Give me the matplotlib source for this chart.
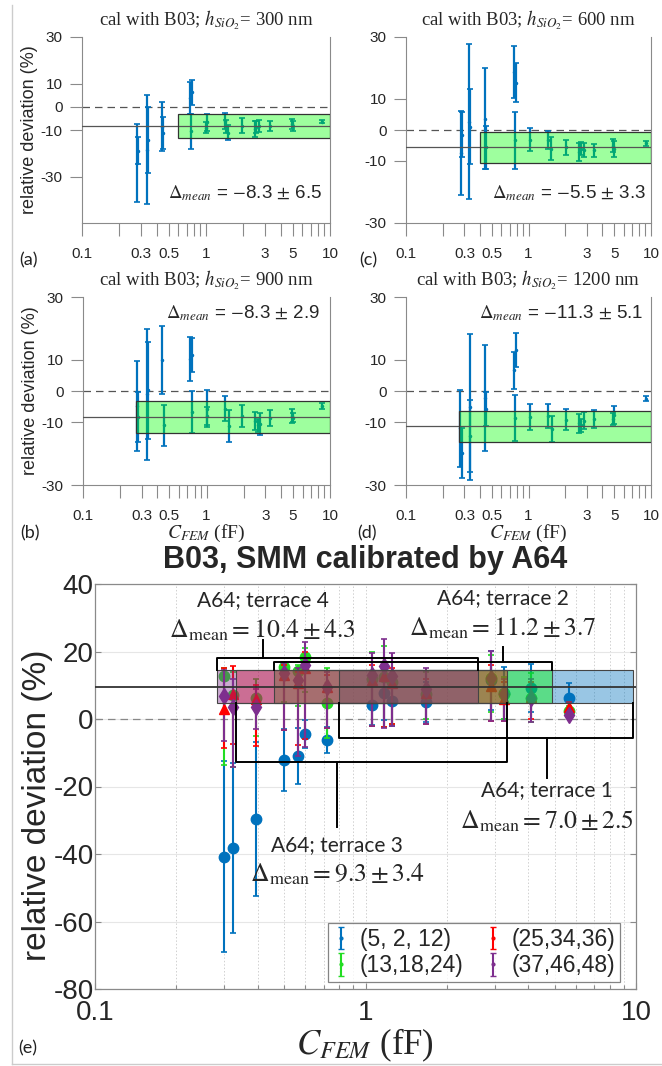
import matplotlib
matplotlib.use('Agg')
import matplotlib.pyplot as plt
import numpy as np
from matplotlib.patches import Rectangle
from matplotlib.ticker import LogLocator, NullFormatter, FixedLocator
from matplotlib.lines import Line2D

plt.rcParams['font.family'] = ['Liberation Sans', 'DejaVu Sans']
plt.rcParams['mathtext.fontset'] = 'stix'
plt.rcParams['axes.unicode_minus'] = False

W, H = 662, 1066

# ---------------- top panels (a)-(d): cal with B03 ----------------
xa = [0.276, 0.285, 0.333, 0.338, 0.44, 0.45, 0.743, 0.77, 0.76, 1.01, 1.0, 1.42, 1.45, 1.5,
      1.94, 2.48, 2.55, 2.7, 3.28, 4.9, 5.0, 8.57]
ya = [-24.2, -18.9, -18.4, -14.4, -8.6, -11.4, 3.8, 6.2, -10.6, -6.7, -9.0, -6.2, -8.5, -11.1,
      -8.2, -9.4, -8.7, -8.4, -8.3, -7.4, -8.3, -6.4]
ea = [16.8, 5.7, 23.4, 14.1, 10.5, 6.8, 6.9, 5.4, 7.5, 3.6, 2.5, 3.4, 3.0, 3.4,
      3.3, 3.4, 2.4, 2.6, 2.0, 2.1, 2.0, 0.8]

xc = [0.281, 0.288, 0.329, 0.334, 0.44, 0.45, 0.757, 0.785, 0.78, 1.02, 1.44, 1.53, 2.02,
      2.6, 2.7, 2.85, 3.44, 5.0, 4.9, 9.1]
yc = [-7.4, -1.5, 2.7, 1.1, 3.7, -5.6, 18.7, 15.3, -3.3, -3.1, -3.2, -6.0, -5.6,
      -7.0, -6.0, -6.5, -6.6, -6.1, -5.0, -4.2]
ec = [13.6, 7.2, 25.0, 12.1, 16.3, 7.0, 8.5, 6.3, 9.2, 3.7, 3.0, 3.6, 2.4,
      2.9, 2.0, 2.2, 2.0, 2.7, 2.0, 0.8]

xb = [0.274, 0.28, 0.33, 0.335, 0.436, 0.45, 0.74, 0.77, 0.76, 1.01, 1.0, 1.42, 1.52,
      1.94, 2.48, 2.7, 2.6, 3.29, 4.92, 5.0, 8.6]
yb = [-4.8, -8.3, -1.1, 0.2, 9.9, -11.0, 10.3, 11.5, -6.6, -5.6, -8.0, -5.6, -11.1,
      -8.0, -9.7, -10.4, -11.0, -8.7, -7.9, -8.5, -4.7]
eb = [14.3, 7.9, 20.9, 15.5, 10.7, 6.6, 7.0, 5.3, 6.7, 5.9, 3.0, 3.9, 5.1,
      3.5, 2.9, 3.5, 2.0, 2.5, 2.3, 1.5, 1.0]

xd = [0.278, 0.285, 0.335, 0.33, 0.44, 0.45, 0.757, 0.785, 0.78, 1.02, 1.45, 1.55,
      2.02, 2.6, 2.7, 2.85, 3.44, 5.0, 4.9, 9.1]
yd = [-11.9, -19.8, -5.1, -14.3, -2.3, -5.7, 6.6, 13.2, -8.5, -8.3, -8.0, -12.1,
      -9.1, -10.3, -11.0, -9.5, -8.9, -7.6, -9.0, -2.4]
ed = [12.2, 8.0, 23.3, 11.4, 16.9, 5.5, 6.0, 5.4, 7.3, 4.3, 3.7, 4.1,
      3.5, 3.1, 2.0, 2.7, 2.8, 2.9, 2.0, 0.9]

top_means = [-8.3, -5.5, -8.3, -11.3]
top_stds = [6.5, 3.3, 2.9, 5.1]
top_heights = [300, 600, 900, 1200]
top_box_x0 = [0.594, 0.40, 0.27, 0.27]
top_tick_vals = [0.1, 0.3, 0.5, 1, 3, 5, 10]
top_tick_labels = ['0.1', '0.3', '0.5', '1', '3', '5', '10']
top_yticks = [30, 10, 0, -10, -30]

# ---------------- panel (e): B03, SMM calibrated by A64 ----------------
x_e = [0.30, 0.324, 0.394, 0.50, 0.563, 0.597, 0.72, 1.057, 1.17, 1.25, 1.67, 2.91, 3.25, 4.09, 5.65]
series_labels = ['(5, 2, 12)', '(13,18,24)', '(25,34,36)', '(37,46,48)']
blue_y = [-40.8, -38.3, -29.7, -12.2, -11.0, -4.5, -6.2, 4.1, 7.7, 5.3, 5.0, 11.5, 7.7, 9.2, 6.2]
blue_lo = [-69.1, -63.5, -52.5, -21.4, -19.3, -8.6, -10.0, -1.9, -0.3, -2.2, -1.0, 2.8, 0.0, 2.1, 1.7]
blue_hi = [-12.5, -13.1, -6.9, -3.0, -2.7, -0.4, -2.4, 10.1, 15.7, 12.8, 11.0, 20.2, 15.4, 16.3, 10.7]
green_y = [12.7, 7.1, 6.2, 15.4, 14.3, 18.4, 4.7, 12.0, 12.5, 11.0, 7.4, 12.2, 7.4, 6.2, 2.5]
green_lo = [-13.7, -14.3, -5.0, 5.0, 4.0, 8.0, -5.6, -2.0, -2.5, -1.5, 0.0, 2.0, 0.0, -0.9, 1.0]
green_hi = [15.0, 14.0, 12.0, 17.0, 16.0, 21.0, 15.0, 20.0, 21.5, 17.0, 14.0, 19.0, 12.5, 13.6, 4.0]
red_y = [3.0, 7.4, 6.0, 13.0, 10.7, 15.0, 9.5, 11.6, 12.7, 10.6, 7.6, 9.8, 6.0, 6.5, 3.6]
red_lo = [-8.6, -7.4, -8.0, -3.4, -7.7, -6.0, -2.6, -2.0, -2.5, -1.5, -1.5, -0.7, -0.6, 0.0, 2.5]
red_hi = [15.0, 15.7, 10.0, 16.0, 14.0, 20.0, 13.0, 16.0, 18.0, 15.0, 12.0, 16.0, 11.0, 11.0, 5.0]
purple_y = [6.8, 3.6, 3.5, 13.6, 11.6, 16.0, 9.6, 13.0, 15.8, 12.7, 8.8, 12.2, 7.4, 6.2, 1.2]
purple_lo = [-6.5, -14.2, -3.0, -3.4, -11.0, -8.2, -2.6, -2.1, -2.7, -2.0, -1.5, -0.7, -0.6, -0.9, 0.3]
purple_hi = [14.5, 12.0, 9.0, 16.6, 15.0, 22.9, 14.0, 19.5, 23.7, 19.7, 15.0, 20.2, 12.0, 12.0, 2.5]

overall_mean = 9.5
band_lo, band_hi = 4.6, 14.5
terrace_names = ['A64; terrace 1', 'A64; terrace 2', 'A64; terrace 3', 'A64; terrace 4']
terrace_means = [7.0, 11.2, 9.3, 10.4]
terrace_stds = [2.5, 3.7, 3.4, 4.3]
terrace_x0 = [0.80, 0.459, 0.332, 0.283]
terrace_x1 = [9.75, 4.89, 3.33, 2.60]
brace_y = [-5.6, 17.0, -12.8, 18.2]
tip_x = [4.70, 3.22, 0.785, 0.417]
tip_y = [-17.5, 21.4, -32.0, 23.4]
label_y = [-21.1, 35.9, -37.4, 35.3]
delta_y = [-30.3, 27.0, -46.0, 26.2]

BLUE = '#0072BD'
GREEN = '#22DD22'
RED = '#FF0000'
PURPLE = '#7E2F8E'
series_colors = [BLUE, GREEN, RED, PURPLE]
box_colors = [BLUE, '#00FF00', RED, PURPLE]
markers = ['o', 'o', '^', 'd']
SPINE = '#8a8a8a'
TXT = '#262626'


def px_axes(fig, left, top, right, bottom):
    return fig.add_axes([left / W, 1 - bottom / H, (right - left) / W, (bottom - top) / H])


def draw_top(ax, x, y, e, mean, box_x0, ylim, title, dtext, dpos):
    ax.errorbar(x, y, yerr=e, fmt='.', ms=3, color=BLUE, ecolor=BLUE,
                elinewidth=1.6, capsize=2.2, capthick=1.2, zorder=2)
    ax.axhline(0, color='#555555', ls=(0, (6, 4)), lw=0.9, zorder=1)
    ax.axhline(mean, color='#555555', lw=0.9, zorder=4)
    ax.add_patch(Rectangle((box_x0, mean - 5), 10 - box_x0, 10, facecolor=(0, 1, 0),
                           alpha=0.38, edgecolor='none', zorder=3))
    ax.add_patch(Rectangle((box_x0, mean - 5), 10 - box_x0, 10, facecolor='none',
                           edgecolor='#333333', lw=0.9, zorder=4))
    ax.set_xscale('log')
    ax.set_xlim(0.1, 10)
    ax.set_ylim(*ylim)
    ax.set_yticks(top_yticks)
    ax.set_yticklabels([str(v) for v in top_yticks])
    ax.xaxis.set_major_locator(FixedLocator(top_tick_vals))
    ax.set_xticklabels(top_tick_labels)
    ax.xaxis.set_minor_locator(LogLocator(base=10, subs=np.arange(2, 10)))
    ax.xaxis.set_minor_formatter(NullFormatter())
    ax.tick_params(axis='both', which='both', direction='out', length=9, width=0.8,
                   color=SPINE, labelcolor=TXT, labelsize=11)
    ax.tick_params(axis='x', which='both', pad=8)
    ax.tick_params(axis='y', pad=5)
    for s in ['left', 'bottom', 'right']:
        ax.spines[s].set_color(SPINE)
        ax.spines[s].set_linewidth(0.8)
    ax.spines['top'].set_visible(False)
    ax.text(0.5, 1 + 17 / 186, title, transform=ax.transAxes, ha='center', va='center',
            fontsize=13.5, family='Liberation Serif', color=TXT)
    ax.text(dpos[0], dpos[1], dtext, transform=ax.transAxes, ha='right', va='center',
            fontsize=13.5, color=TXT)


fig = plt.figure(figsize=(W / 100, H / 100), dpi=100)

# figure frame (left and bottom light border)
fig.add_artist(Line2D([12 / W, 12 / W], [1 - 1064 / H, 1 - 5 / H], color='#cccccc', lw=1,
                      transform=fig.transFigure))
fig.add_artist(Line2D([12 / W, 1], [1 - 1064 / H, 1 - 1064 / H], color='#cccccc', lw=1,
                      transform=fig.transFigure))

ax_a = px_axes(fig, 82, 37, 330, 223)
ax_c = px_axes(fig, 406, 37, 651, 223)
ax_b = px_axes(fig, 83, 297, 330, 485)
ax_d = px_axes(fig, 406, 297, 651, 485)

top_data = [(ax_a, xa, ya, ea, (-50, 30), (0.97, 0.16)),
            (ax_c, xc, yc, ec, (-30, 30), (0.98, 0.16)),
            (ax_b, xb, yb, eb, (-30, 30), (0.96, 0.915)),
            (ax_d, xd, yd, ed, (-30, 30), (0.97, 0.915))]
for i, (ax, x, y, e, yl, dpos) in enumerate(top_data):
    title = 'cal with B03; $h_{SiO_2}$= %d nm' % top_heights[i]
    dtext = r'$\Delta_{mean}$ = $-$%.1f $\pm$ %.1f' % (abs(top_means[i]), top_stds[i])
    draw_top(ax, x, y, e, top_means[i], top_box_x0[i], yl, title, dtext, dpos)

for ax in (ax_a, ax_b):
    ax.set_ylabel('relative deviation (%)', fontsize=13, color=TXT, labelpad=2)

for cx in ((83 + 330) / 2, (406 + 651) / 2):
    fig.text(cx / W, 1 - 533 / H, '$C_{FEM}$ (fF)', ha='center', va='center',
             fontsize=14, family='Liberation Serif', color=TXT)

panel_labels = [('(a)', 28, 260), ('(c)', 368, 260), ('(b)', 30, 533), ('(d)', 367, 533),
                ('(e)', 28, 1048)]
for txt, px, py in panel_labels:
    fig.text(px / W, 1 - py / H, txt, ha='center', va='center', fontsize=13,
             family='Lato', color='#222222')

# ---------------- panel (e) ----------------
ax = px_axes(fig, 95, 584, 636, 989)
ax.set_xscale('log')
ax.set_xlim(0.1, 10)
ax.set_ylim(-80, 40)
ax.set_yticks(np.arange(-80, 41, 20))
ax.xaxis.set_minor_locator(LogLocator(base=10, subs=np.arange(2, 10)))
ax.xaxis.set_minor_formatter(NullFormatter())
ax.set_xticks([0.1, 1, 10])
ax.set_xticklabels(['0.1', '1', '10'])
ax.grid(True, which='major', axis='y', color='#e6e6e6', lw=0.8)
ax.grid(True, which='both', axis='x', color='#d0d0d0', lw=0.7, ls=(0, (1.5, 2)))
ax.set_axisbelow(True)
ax.tick_params(axis='both', which='both', direction='in', length=4, width=0.8,
               color=SPINE, labelcolor=TXT, labelsize=20, top=False, right=True)
ax.tick_params(axis='x', which='major', pad=8)
ax.tick_params(axis='x', which='minor', length=3)
ax.tick_params(axis='y', pad=1)
for s in ax.spines.values():
    s.set_color(SPINE)
    s.set_linewidth(0.9)

ax.axhline(0, color='#888888', ls=(0, (6, 4)), lw=0.9, zorder=1)

series = [(blue_y, blue_lo, blue_hi), (green_y, green_lo, green_hi),
          (red_y, red_lo, red_hi), (purple_y, purple_lo, purple_hi)]
for k, (yv, lo, hi) in enumerate(series):
    yv = np.array(yv)
    yerr = [yv - np.array(lo), np.array(hi) - yv]
    ax.errorbar(x_e, yv, yerr=yerr, fmt=markers[k], ms=7.5 if k != 3 else 8.5,
                color=series_colors[k], ecolor=series_colors[k], elinewidth=1.5,
                capsize=2.2, capthick=1.2, zorder=2 + 0.1 * k)

for k in range(4):
    ax.add_patch(Rectangle((terrace_x0[k], band_lo), terrace_x1[k] - terrace_x0[k],
                           band_hi - band_lo, facecolor=box_colors[k], alpha=0.4,
                           edgecolor='none', zorder=3))
    ax.add_patch(Rectangle((terrace_x0[k], band_lo), terrace_x1[k] - terrace_x0[k],
                           band_hi - band_lo, facecolor='none', edgecolor='#444444',
                           lw=0.8, zorder=3.5))

ax.axhline(overall_mean, color='#333333', lw=1.3, zorder=4)

for k in range(4):
    x0, x1, yb_, tx, ty = terrace_x0[k], terrace_x1[k], brace_y[k], tip_x[k], tip_y[k]
    yedge = band_hi if yb_ > band_hi else band_lo
    ax.plot([x0, x0, x1, x1], [yedge, yb_, yb_, yedge], color='k', lw=1.4, zorder=5)
    ax.plot([tx, tx], [yb_, ty], color='k', lw=1.4, zorder=5)
    ax.text(tx, label_y[k], terrace_names[k], ha='center', va='center', fontsize=15,
            family='Lato', color=TXT, zorder=6)
    ax.text(tx, delta_y[k], r'$\Delta_{\mathrm{mean}} = %.1f \pm %.1f$'
            % (terrace_means[k], terrace_stds[k]), ha='center', va='center',
            fontsize=18.5, color=TXT, zorder=6)

# legend proxies (small dot errorbar symbols)
handles = []
for k in range(4):
    h = ax.errorbar([1e-3], [0], yerr=[1], fmt='.', ms=4, color=series_colors[k],
                    elinewidth=1.5, capsize=2.5)
    handles.append(h)
leg = ax.legend(handles, series_labels, ncol=2, loc='lower right',
                bbox_to_anchor=(620 / W, 1 - 982 / H), bbox_transform=fig.transFigure,
                fontsize=16.5, frameon=True, fancybox=False, edgecolor='#666666',
                borderaxespad=0, handlelength=0.8, handletextpad=0.4, columnspacing=0.9,
                borderpad=0.2, labelspacing=0.15)
leg.get_frame().set_linewidth(0.9)
for t in leg.get_texts():
    t.set_color(TXT)

fig.text(365 / W, 1 - 560 / H, 'B03, SMM calibrated by A64', ha='center', va='center',
         fontsize=22, fontweight='bold', color=TXT)
fig.text(38 / W, 1 - 805 / H, 'relative deviation (%)', ha='center', va='center',
         rotation=90, fontsize=24, color=TXT)
fig.text(365 / W, 1 - 1045 / H, '$C_{FEM}$ (fF)', ha='center', va='center',
         fontsize=25, family='Liberation Serif', color=TXT)

fig.savefig('out.png', dpi=100)
